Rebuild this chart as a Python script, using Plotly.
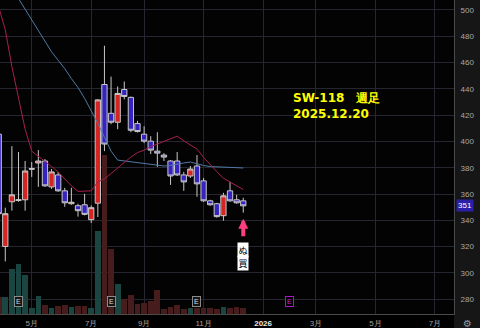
import pandas as pd
import plotly.graph_objects as go

# ---- data ----
week_dates = pd.date_range("2025-03-31", "2025-12-15", freq="7D").strftime("%Y-%m-%d").tolist()
opens  = [405.5, 320.1, 354.1, 355.0, 355.6, 378.8, 383.6, 385.1, 365.4, 374.5, 362.4, 352.6, 351.1, 351.8, 340.5,
          353.0, 443.3, 421.4, 414.6, 439.5, 433.5, 413.6, 405.5, 400.2, 392.6, 389.6, 385.1, 385.1, 374.5, 373.7,
          381.3, 370.0, 354.8, 352.6, 343.5, 362.4, 355.6, 354.8]
highs  = [410.8, 349.6, 396.4, 391.9, 385.1, 384.3, 393.4, 386.6, 379.0, 376.8, 364.7, 364.7, 352.6, 360.1, 351.3,
          432.0, 472.8, 449.3, 441.8, 445.6, 434.2, 415.6, 411.5, 404.0, 407.0, 391.1, 385.8, 391.9, 376.8, 381.3,
          389.6, 372.2, 355.6, 353.3, 360.9, 369.2, 359.4, 357.1]
lows   = [339.7, 308.7, 347.3, 354.1, 347.3, 373.0, 365.4, 365.4, 363.9, 361.7, 350.3, 351.8, 342.8, 343.7, 338.0,
          342.5, 392.6, 413.1, 409.3, 432.0, 407.0, 406.8, 398.7, 390.4, 380.6, 385.1, 366.9, 373.7, 362.4, 372.2,
          357.9, 354.1, 351.1, 342.0, 339.7, 354.1, 352.6, 345.8]
closes = [345.0, 345.0, 359.4, 355.6, 377.5, 379.3, 385.1, 366.2, 376.8, 362.4, 353.3, 353.7, 347.3, 344.5, 349.6,
          431.6, 398.0, 414.6, 436.5, 434.2, 408.5, 407.5, 400.2, 393.4, 391.1, 388.1, 373.7, 374.5, 369.2, 379.0,
          367.7, 354.8, 351.8, 342.8, 358.6, 354.8, 353.3, 351.0]
volumes = [170, 170, 450, 500, 390, 60, 180, 90, 60, 80, 90, 70, 80, 80, 60,
           840, 1600, 650, 300, 150, 190, 100, 110, 130, 240, 50, 75, 90, 55, 60,
           60, 60, 60, 50, 70, 60, 70, 60]
ma13 = [502.3, 484.9, 456.9, 432.7, 409.3, 392.6, 388.9, 385.1, 380.9, 376.8, 371.5, 366.2, 362.0, 362.0, 362.4,
        369.2, 371.5, 375.6, 379.8, 384.3, 388.1, 391.5, 393.4, 396.0, 397.9, 399.8, 401.7, 404.0, 400.4, 397.2,
        394.2, 387.9, 382.1, 377.0, 372.0, 369.0, 366.4, 363.4]
ma26 = [533.0, 524.9, 516.6, 509.0, 501.1, 492.8, 484.5, 476.6, 468.2, 461.7, 455.4, 447.8, 441.0, 432.7, 423.6,
        413.8, 403.2, 392.6, 385.8, 385.1, 384.3, 383.6, 383.2, 382.4, 381.7, 381.3, 381.7, 382.8, 383.6, 384.3,
        382.8, 381.7, 380.9, 380.6, 380.2, 380.2, 379.8, 379.8]
earn_dates = ["2025-04-21", "2025-07-28", "2025-10-27"]
earn_future = ["2026-02-02"]
tick_dates = ["2025-05-05", "2025-07-07", "2025-09-01", "2025-11-03", "2026-01-05", "2026-03-02", "2026-05-04", "2026-07-06"]
tick_labels = ["5月", "7月", "9月", "11月", "<b><span style='color:#e8e8e8'>2026</span></b>", "3月", "5月", "7月"]
price_ticks = [280, 300, 320, 340, 360, 380, 400, 420, 440, 460, 480, 500]
title_text = "SW-118\u3000週足<br>2025.12.20"
signal_chars = ["ぬ", "買"]

base = pd.Timestamp("2025-04-07")
def widx(d):
    return (pd.Timestamp(d) - base).days / 7.0

x = [widx(d) for d in week_dates]
vol_colors = ["#1a4540" if c >= o else "#461c1c" for o, c in zip(opens, closes)]

fig = go.Figure()
fig.add_trace(go.Bar(x=x, y=volumes, marker=dict(color=vol_colors, line=dict(width=0)),
                     width=0.86, yaxis="y", hoverinfo="skip"))
fig.add_trace(go.Scatter(x=x, y=ma26, mode="lines", line=dict(color="#4f7aa6", width=1), yaxis="y2"))
fig.add_trace(go.Scatter(x=x, y=ma13, mode="lines", line=dict(color="#a61f4f", width=1), yaxis="y2"))
fig.add_trace(go.Candlestick(x=x, open=opens, high=highs, low=lows, close=closes, yaxis="y2",
                             increasing=dict(fillcolor="#d42424", line=dict(color="#c8c8c8", width=1)),
                             decreasing=dict(fillcolor="#3524c0", line=dict(color="#c8c8c8", width=1)),
                             whiskerwidth=0))

annotations = []
for d in earn_dates:
    annotations.append(dict(x=widx(d), y=0.021, xref="x", yref="paper", text="E", showarrow=False,
                            font=dict(size=7, color="#dcdcdc", family="Liberation Sans"),
                            bgcolor="#151515", bordercolor="#8a8a8a", borderwidth=1, borderpad=1))
for d in earn_future:
    annotations.append(dict(x=widx(d), y=0.021, xref="x", yref="paper", text="E", showarrow=False,
                            font=dict(size=7, color="#c020e0", family="Liberation Sans"),
                            bgcolor="#000000", bordercolor="#b010d0", borderwidth=1, borderpad=1))
annotations.append(dict(x=0.641, y=0.662, xref="paper", yref="paper", xanchor="left", yanchor="middle",
                        text=title_text, showarrow=False, align="left",
                        font=dict(size=12, color="#ffff00", family="DejaVu Sans", weight="bold")))
last_x = x[-1]
annotations.append(dict(x=last_x, y=341.2, xref="x", yref="y2", ax=0, ay=19, text="", showarrow=True,
                        arrowhead=2, arrowsize=0.5, arrowwidth=4, arrowcolor="#ff3d7f"))
for ch, yy in zip(signal_chars, [0.2025, 0.163]):
    annotations.append(dict(x=last_x, y=yy, xref="x", yref="paper", text=ch, showarrow=False,
                            yanchor="middle", font=dict(size=9, color="#000000", family="Noto Sans CJK JP"),
                            bgcolor="#ffffff", borderpad=0.5))
annotations.append(dict(x=1.0, y=closes[-1], xref="paper", yref="y2", xanchor="left", xshift=2,
                        text=f"{closes[-1]:.0f}", showarrow=False,
                        font=dict(size=8, color="#ffffff", family="Liberation Sans"),
                        bgcolor="#2b1fa8", borderpad=1))
annotations.append(dict(x=1.0, y=0, xref="paper", yref="paper", xanchor="left", yanchor="top", xshift=7, yshift=-2,
                        text="⚙", showarrow=False, font=dict(size=10, color="#9a9a9a", family="DejaVu Sans")))

fig.update_layout(
    width=480, height=328,
    margin=dict(l=0, r=26, t=0, b=12),
    paper_bgcolor="#000000", plot_bgcolor="#030303",
    showlegend=False, bargap=0, boxgap=0.2, boxgroupgap=0,
    font=dict(family="Liberation Sans", size=8, color="#a8a8a8"),
    xaxis=dict(range=[-0.8, 67.88], tickvals=[widx(d) for d in tick_dates], ticktext=tick_labels,
               showgrid=True, gridcolor="#262630", gridwidth=1, zeroline=False,
               showline=True, linecolor="#4a4a4a", linewidth=1, ticks="", ticklabelstandoff=1,
               tickfont=dict(size=8, color="#a0a0a0"), rangeslider=dict(visible=False), fixedrange=True),
    yaxis=dict(range=[0, 3160], showgrid=False, zeroline=False, showticklabels=False, fixedrange=True),
    yaxis2=dict(range=[268.7, 507.6], overlaying="y", side="right", tickvals=price_ticks,
                showgrid=True, gridcolor="#262630", gridwidth=1, zeroline=False,
                showline=True, linecolor="#4a4a4a", linewidth=1, ticks="", ticklabelstandoff=4,
                tickfont=dict(size=8, color="#a8a8a8"), fixedrange=True),
    shapes=[dict(type="rect", xref="paper", yref="paper", x0=1.0, x1=1.06, y0=-0.05, y1=1.0,
                 fillcolor="#161616", line=dict(width=0), layer="below")],
    annotations=annotations,
)

fig.write_html("out.html")
